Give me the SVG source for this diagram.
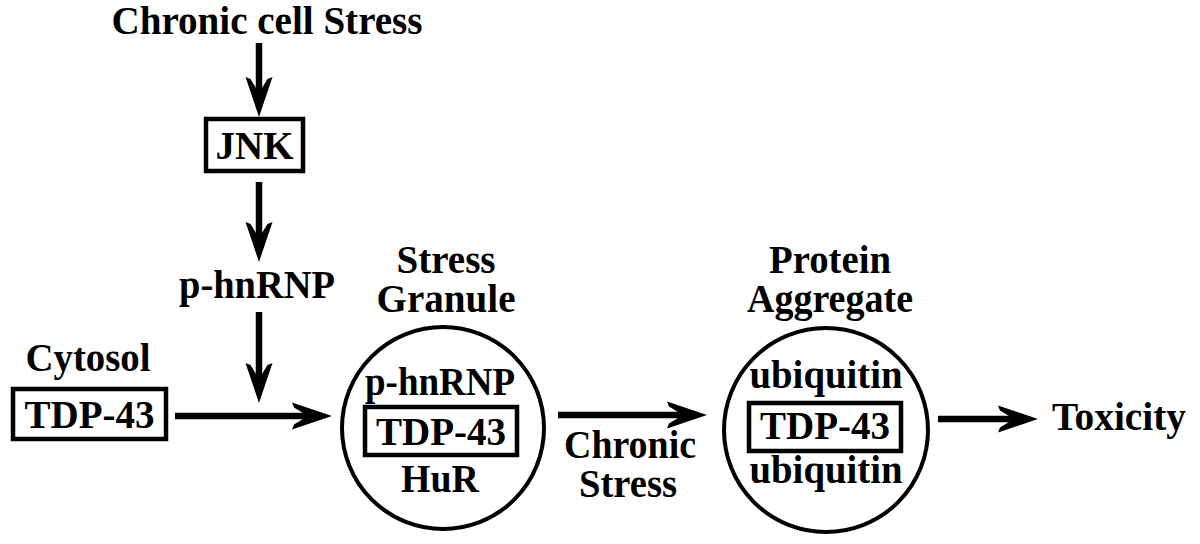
<svg xmlns="http://www.w3.org/2000/svg" width="1200" height="544" viewBox="0 0 1200 544">
<defs>
<style>
text{font-family:"Liberation Serif","Times New Roman",serif;font-weight:bold;font-size:40px;fill:#000;text-anchor:middle}
.box{fill:none;stroke:#000;stroke-width:4.5}
.ring{fill:none;stroke:#000;stroke-width:4}
.arr{fill:none;stroke:#000;stroke-width:6.5;marker-end:url(#ah)}
</style>
<marker id="ah" markerUnits="userSpaceOnUse" viewBox="-42 -15 44 30" markerWidth="44" markerHeight="30" refX="-15" refY="0" orient="auto">
<path d="M0,0 L-40,-13.5 L-38,-8.5 L-29,-3 L-29,3 L-38,8.5 L-40,13.5 Z" fill="#000"/>
</marker>
</defs>
<rect width="1200" height="544" fill="#fff"/>
<g id="connectors">
<path class="arr" d="M259,43 L259,102"/>
<path class="arr" d="M259,182 L259,247"/>
<path class="arr" d="M259,312 L259,388"/>
<path class="arr" d="M175,416 L317,416"/>
<path class="arr" d="M558,415 L692,415"/>
<path class="arr" d="M938,419 L1023,419"/>
</g>
<g id="chronic-cell-stress"><text x="267" y="34" textLength="311" lengthAdjust="spacingAndGlyphs">Chronic cell Stress</text></g>
<g id="jnk"><rect class="box" x="206" y="119" width="97" height="52"/><text x="254.5" y="159" textLength="78" lengthAdjust="spacingAndGlyphs">JNK</text></g>
<g id="p-hnrnp"><text x="257" y="298" textLength="156" lengthAdjust="spacingAndGlyphs">p-hnRNP</text></g>
<g id="cytosol"><text x="88" y="371" textLength="125" lengthAdjust="spacingAndGlyphs">Cytosol</text><rect class="box" x="13" y="389" width="153" height="50"/><text x="89.5" y="428" textLength="130" lengthAdjust="spacingAndGlyphs">TDP-43</text></g>
<g id="stress-granule">
<text x="446" y="273" textLength="99" lengthAdjust="spacingAndGlyphs">Stress</text><text x="446" y="312" textLength="139" lengthAdjust="spacingAndGlyphs">Granule</text>
<circle class="ring" cx="443" cy="428" r="101"/>
<text x="440" y="395" textLength="150" lengthAdjust="spacingAndGlyphs">p-hnRNP</text>
<rect class="box" x="365" y="407" width="152" height="48"/>
<text x="441" y="445" textLength="130" lengthAdjust="spacingAndGlyphs">TDP-43</text>
<text x="440" y="492" textLength="78" lengthAdjust="spacingAndGlyphs">HuR</text>
</g>
<g id="chronic-stress"><text x="630" y="458" textLength="132" lengthAdjust="spacingAndGlyphs">Chronic</text><text x="628" y="497" textLength="98" lengthAdjust="spacingAndGlyphs">Stress</text></g>
<g id="protein-aggregate">
<text x="830" y="273" textLength="122" lengthAdjust="spacingAndGlyphs">Protein</text><text x="830" y="312" textLength="166" lengthAdjust="spacingAndGlyphs">Aggregate</text>
<circle class="ring" cx="826" cy="430" r="102"/>
<text x="826" y="388" textLength="153" lengthAdjust="spacingAndGlyphs">ubiquitin</text>
<rect class="box" x="749" y="403" width="152" height="48"/>
<text x="825" y="439" textLength="130" lengthAdjust="spacingAndGlyphs">TDP-43</text>
<text x="826" y="483" textLength="153" lengthAdjust="spacingAndGlyphs">ubiquitin</text>
</g>
<g id="toxicity"><text x="1119" y="430" textLength="134" lengthAdjust="spacingAndGlyphs">Toxicity</text></g>
</svg>
